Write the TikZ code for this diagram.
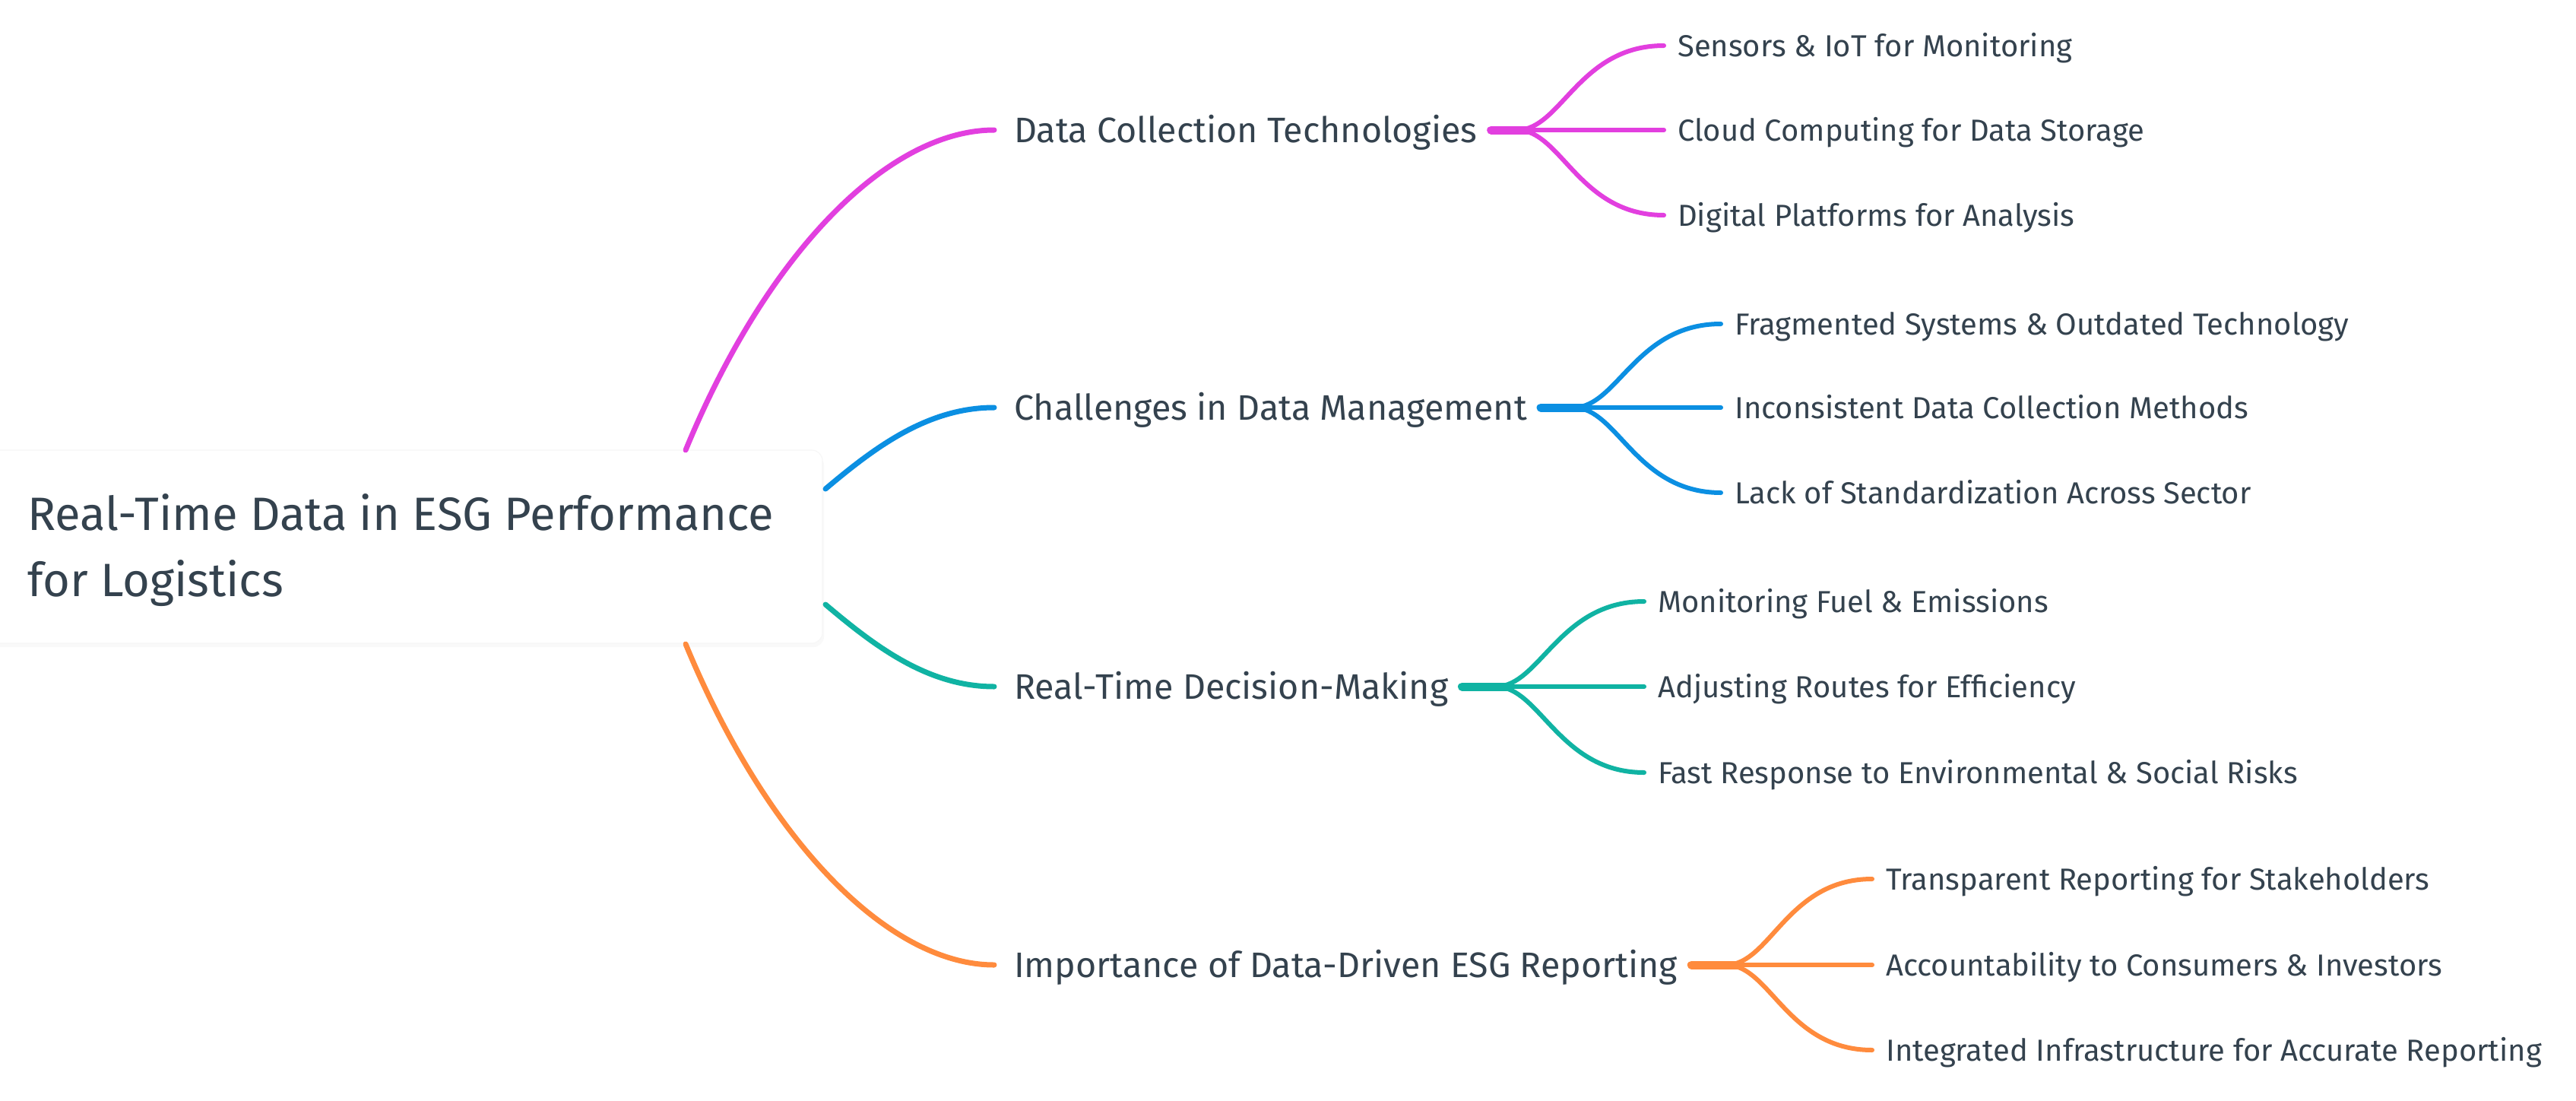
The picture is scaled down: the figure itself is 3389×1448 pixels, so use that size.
\documentclass[tikz,border=0pt]{standalone}
\usepackage{fontspec}
\setmainfont{Fira Sans}
\definecolor{txt}{HTML}{34424E}
\definecolor{cmag}{HTML}{E23FDF}
\definecolor{cblue}{HTML}{0B8FE2}
\definecolor{cteal}{HTML}{10B3A3}
\definecolor{corange}{HTML}{FF8B3D}
\begin{document}
\begin{tikzpicture}[x=1pt,y=-1pt,
  every node/.style={inner sep=0pt, text=txt},
  roottxt/.style={font=\fontsize{61.5}{72}\selectfont, anchor=west, text height=42pt, text depth=0pt},
  branchtxt/.style={font=\fontsize{46.6}{58}\selectfont, anchor=west, text height=32pt, text depth=0pt},
  leaftxt/.style={font=\fontsize{40}{48}\selectfont, anchor=west, text height=28pt, text depth=0pt},
  mainlink/.style={line width=7pt, line cap=round},
  leaflink/.style={line width=6pt, line cap=round},
  stublink/.style={line width=11pt, line cap=round},
  rootbox/.style={fill=white, draw=black!3, line width=1.2pt, rounded corners=14pt, minimum width=1110pt, minimum height=254pt}
]
\useasboundingbox (0,0) rectangle (3389,1448);
\fill[white] (0,0) rectangle (3389,1448);

% root box
\fill[black!2.5, rounded corners=14pt] (-30,598) rectangle (1084,851);
\node[rootbox] (root) at (527,719) {};
\node[roottxt] (rt1) at (36,676) {Real-Time Data in ESG Performance};
\node[roottxt] (rt2) at (36,763) {for Logistics};

% exits from the root box
\coordinate (r1) at (902,592);
\coordinate (r2) at (1086,643);
\coordinate (r3) at (1086,795);
\coordinate (r4) at (902,847);

% branch nodes
\node[branchtxt] (b1) at (1334,171) {Data Collection Technologies};
\node[branchtxt] (b2) at (1334,536) {Challenges in Data Management};
\node[branchtxt] (b3) at (1334,903) {Real-Time Decision-Making};
\node[branchtxt] (b4) at (1334,1269) {Importance of Data-Driven ESG Reporting};

% main links
\draw[mainlink, cmag] (r1) .. controls (1010,330) and (1170,171) .. ([xshift=-26pt]b1.west);
\draw[mainlink, cblue] (r2) .. controls (1150,589) and (1220,536) .. ([xshift=-26pt]b2.west);
\draw[mainlink, cteal] (r3) .. controls (1150,849) and (1220,903) .. ([xshift=-26pt]b3.west);
\draw[mainlink, corange] (r4) .. controls (1010,1108) and (1170,1269) .. ([xshift=-26pt]b4.west);

% hubs
\coordinate (h1) at (1996,171);
\coordinate (h2) at (2070,536);
\coordinate (h3) at (1968,903);
\coordinate (h4) at (2271,1269);

% leaves
\node[leaftxt] (c11) at (2207,60) {Sensors \& IoT for Monitoring};
\node[leaftxt] (c12) at (2207,171) {Cloud Computing for Data Storage};
\node[leaftxt] (c13) at (2207,283) {Digital Platforms for Analysis};

\node[leaftxt] (c21) at (2282,426) {Fragmented Systems \& Outdated Technology};
\node[leaftxt] (c22) at (2282,536) {Inconsistent Data Collection Methods};
\node[leaftxt] (c23) at (2282,648) {Lack of Standardization Across Sector};

\node[leaftxt] (c31) at (2181,791) {Monitoring Fuel \& Emissions};
\node[leaftxt] (c32) at (2181,903) {Adjusting Routes for Efficiency};
\node[leaftxt] (c33) at (2181,1016) {Fast Response to Environmental \& Social Risks};

\node[leaftxt] (c41) at (2481,1156) {Transparent Reporting for Stakeholders};
\node[leaftxt] (c42) at (2481,1269) {Accountability to Consumers \& Investors};
\node[leaftxt] (c43) at (2481,1381) {Integrated Infrastructure for Accurate Reporting};

% stubs
\draw[stublink, cmag] ([xshift=18pt]b1.east) -- ([xshift=16pt]h1);
\draw[stublink, cblue] ([xshift=18pt]b2.east) -- ([xshift=16pt]h2);
\draw[stublink, cteal] ([xshift=18pt]b3.east) -- ([xshift=16pt]h3);
\draw[stublink, corange] ([xshift=18pt]b4.east) -- ([xshift=16pt]h4);

% leaf links
\foreach \h/\c/\col in {h1/c1/cmag, h2/c2/cblue, h3/c3/cteal, h4/c4/corange}{
  \draw[leaflink, \col] (\h) .. controls +(58,0) and +(-112,0) .. ([xshift=-18pt]\c1.west);
  \draw[leaflink, \col] (\h) -- ([xshift=-18pt]\c2.west);
  \draw[leaflink, \col] (\h) .. controls +(58,0) and +(-112,0) .. ([xshift=-18pt]\c3.west);
}
\end{tikzpicture}
\end{document}
